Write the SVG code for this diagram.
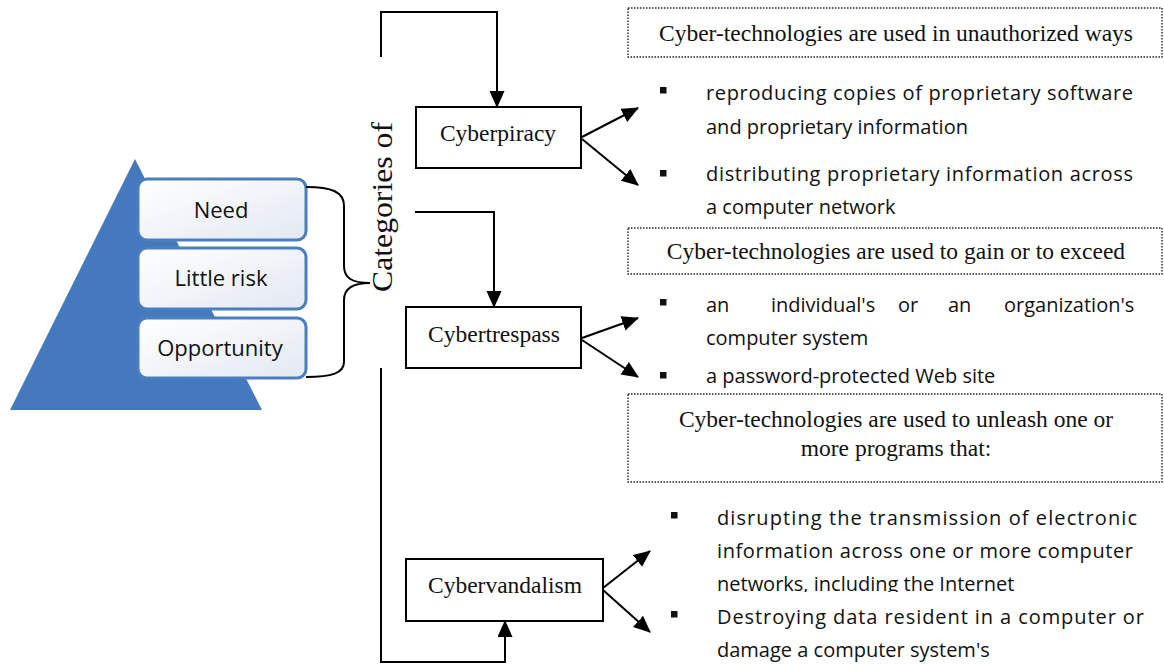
<svg xmlns="http://www.w3.org/2000/svg" width="1164" height="664" viewBox="0 0 1164 664">
<style>
.ser{font-family:"Liberation Serif","Times New Roman",serif;fill:#111;}
.sans{font-family:"Open Sans","Liberation Sans",sans-serif;fill:#111;}
.box{fill:#fff;stroke:#000;stroke-width:2;}
.dot{fill:#fff;stroke:#222;stroke-width:1.4;stroke-dasharray:1.5 1.5;}
.ln{fill:none;stroke:#000;stroke-width:2;}
.pbox{fill:url(#pg);stroke:#4a7ebf;stroke-width:3;}
.blt{fill:#111;}
</style>
<defs>
<linearGradient id="pg" x1="0" y1="0" x2="1" y2="1">
<stop offset="0" stop-color="#ffffff"/>
<stop offset="1" stop-color="#e3e9f2"/>
</linearGradient>
<marker id="ah" markerUnits="userSpaceOnUse" markerWidth="18" markerHeight="16" refX="16" refY="7.5" orient="auto">
<path d="M0,0 L17,7.5 L0,15 Z" fill="#000"/>
</marker>
<clipPath id="cl"><rect x="700" y="560" width="460" height="32"/></clipPath>
</defs>

<g id="pyramid">
<polygon points="135,159 10,410 262,410" fill="#4479be"/>
</g>
<g id="need">
<rect class="pbox" x="138" y="179" width="168" height="61" rx="9"/>
<text class="sans" x="221" y="218" font-size="22" text-anchor="middle">Need</text>
</g>
<g id="little-risk">
<rect class="pbox" x="138" y="248" width="168" height="61" rx="9"/>
<text class="sans" x="221" y="286" font-size="22" text-anchor="middle">Little risk</text>
</g>
<g id="opportunity">
<rect class="pbox" x="138" y="318" width="168" height="60" rx="9"/>
<text class="sans" x="220" y="356" font-size="22" text-anchor="middle">Opportunity</text>
</g>
<g id="brace">
<path class="ln" d="M306,187 C332,187 344,192 344,206 L344,266 C344,278 352,283 370,283 C352,283 344,289 344,300 L344,362 C344,373 332,377 306,377" stroke-width="1.8"/>
</g>
<g id="categories">
<text class="ser" transform="translate(392,292) rotate(-90)" font-size="30" textLength="170" lengthAdjust="spacingAndGlyphs">Categories of</text>
</g>

<g id="connectors">
<path class="ln" d="M381,57 L381,12 L497,12 L497,107" marker-end="url(#ah)"/>
<path class="ln" d="M415,212 L494,212 L494,307" marker-end="url(#ah)"/>
<path class="ln" d="M381,368 L381,662 L505,662 L505,621" marker-end="url(#ah)"/>
<path class="ln" d="M582,137 L638,108" marker-end="url(#ah)"/>
<path class="ln" d="M582,139 L638,185" marker-end="url(#ah)"/>
<path class="ln" d="M582,338 L638,318" marker-end="url(#ah)"/>
<path class="ln" d="M582,340 L638,377" marker-end="url(#ah)"/>
<path class="ln" d="M603,588 L650,551" marker-end="url(#ah)"/>
<path class="ln" d="M603,590 L650,632" marker-end="url(#ah)"/>
</g>

<g id="cyberpiracy">
<rect class="box" x="416" y="107" width="165" height="61"/>
<text class="ser" x="498" y="141" font-size="23.5" text-anchor="middle">Cyberpiracy</text>
</g>
<g id="cybertrespass">
<rect class="box" x="406" y="307" width="175" height="61"/>
<text class="ser" x="494" y="342" font-size="23.5" text-anchor="middle">Cybertrespass</text>
</g>
<g id="cybervandalism">
<rect class="box" x="406" y="559" width="197" height="62"/>
<text class="ser" x="505" y="593" font-size="23.5" text-anchor="middle">Cybervandalism</text>
</g>

<g id="desc-piracy">
<rect class="dot" x="628" y="8" width="534" height="49"/>
<text class="ser" x="896" y="41" font-size="23.5" text-anchor="middle">Cyber-technologies are used in unauthorized ways</text>
<rect class="blt" x="660" y="87" width="6.5" height="6.5"/>
<text class="sans" x="706" y="100" font-size="20" textLength="427" lengthAdjust="spacing">reproducing copies of proprietary software</text>
<text class="sans" x="706" y="134" font-size="20">and proprietary information</text>
<rect class="blt" x="660" y="170" width="6.5" height="6.5"/>
<text class="sans" x="706" y="181" font-size="20" textLength="427" lengthAdjust="spacing">distributing proprietary information across</text>
<text class="sans" x="706" y="214" font-size="20">a computer network</text>
</g>

<g id="desc-trespass">
<rect class="dot" x="628" y="228" width="534" height="46"/>
<text class="ser" x="896" y="259" font-size="23.5" text-anchor="middle">Cyber-technologies are used to gain or to exceed</text>
<rect class="blt" x="660" y="299" width="6.5" height="6.5"/>
<text class="sans" y="312" font-size="20"><tspan x="706">an</tspan><tspan x="771">individual's</tspan><tspan x="898">or</tspan><tspan x="948">an</tspan><tspan x="1004">organization's</tspan></text>
<text class="sans" x="706" y="345" font-size="20">computer system</text>
<rect class="blt" x="660" y="372" width="6.5" height="6.5"/>
<text class="sans" x="706" y="383" font-size="20">a password-protected Web site</text>
</g>

<g id="desc-vandalism">
<rect class="dot" x="628" y="394" width="534" height="88"/>
<text class="ser" x="896" y="427" font-size="23.5" text-anchor="middle">Cyber-technologies are used to unleash one or</text>
<text class="ser" x="896" y="456" font-size="23.5" text-anchor="middle">more programs that:</text>
<rect class="blt" x="671" y="512" width="6.5" height="6.5"/>
<text class="sans" x="717" y="525" font-size="20" textLength="420" lengthAdjust="spacing">disrupting the transmission of electronic</text>
<text class="sans" x="717" y="558" font-size="20" textLength="416" lengthAdjust="spacing">information across one or more computer</text>
<text class="sans" x="717" y="591" font-size="20" clip-path="url(#cl)">networks, including the Internet</text>
<rect class="blt" x="671" y="611" width="6.5" height="6.5"/>
<text class="sans" x="717" y="624" font-size="20" textLength="427" lengthAdjust="spacing">Destroying data resident in a computer or</text>
<text class="sans" x="717" y="657" font-size="20">damage a computer system's</text>
</g>
</svg>
